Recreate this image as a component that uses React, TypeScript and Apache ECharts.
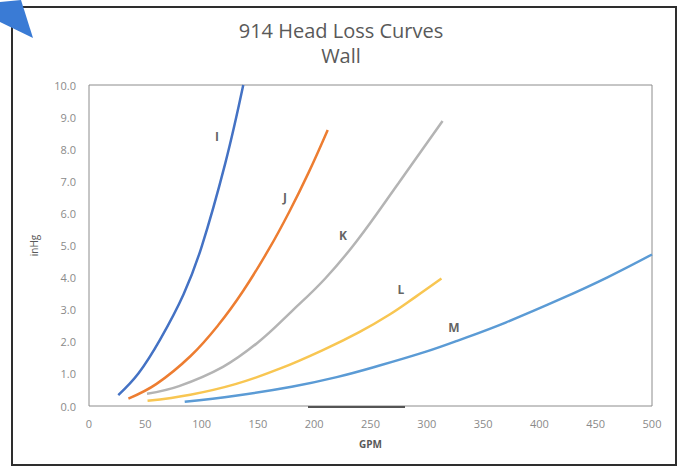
import React, { useEffect, useRef } from "react";
import * as echarts from "echarts";

const titleLines = ["914 Head Loss Curves", "Wall"];
const xName = "GPM";
const yName = "inHg";

const curveI = [[26, 0.34], [44, 1.02], [63, 2.06], [84, 3.48], [100, 4.96], [121, 7.56], [137, 10.0]];
const curveJ = [[35, 0.23], [60, 0.69], [90, 1.55], [115, 2.53], [137, 3.59], [160, 4.9], [178, 6.06], [195, 7.27], [212, 8.6]];
const curveK = [[51.5, 0.38], [80, 0.62], [119, 1.22], [150, 1.98], [180, 2.95], [210, 3.98], [238, 5.15], [275, 6.95], [314, 8.88]];
const curveL = [[52, 0.16], [90, 0.35], [130, 0.68], [170, 1.17], [210, 1.78], [240, 2.3], [267, 2.85], [290, 3.4], [313, 3.97]];
const curveM = [[85, 0.13], [130, 0.32], [180, 0.6], [220, 0.9], [258, 1.26], [300, 1.7], [327, 2.03], [370, 2.6], [420, 3.35], [460, 4.0], [500, 4.72]];

const curveNames = ["I", "J", "K", "L", "M"];
const curveColors = ["#4472C4", "#ED7D31", "#B4B4B4", "#F8C652", "#5B9BD5"];
const curves = [curveI, curveJ, curveK, curveL, curveM];
const labelPositions = [[113.7, 8.4], [174, 6.5], [225.6, 5.3], [277, 3.64], [324, 2.43]];

export default function App() {
  const ref = useRef<HTMLDivElement>(null);
  useEffect(() => {
    if (!ref.current) return;
    const chart = echarts.init(ref.current, null, { renderer: "svg" });
    const font = "'Open Sans', 'Noto Sans', sans-serif";
    const lineSeries = curves.map((c, i) => ({
      type: "line",
      name: curveNames[i],
      data: c,
      smooth: 0.4,
      showSymbol: false,
      symbol: "none",
      lineStyle: { color: curveColors[i], width: 2.5 },
      z: 3,
    }));
    chart.setOption({
      animation: false,
      backgroundColor: "#ffffff",
      textStyle: { fontFamily: font },
      title: {
        text: titleLines.join("\n"),
        left: "center",
        top: 13,
        textStyle: { fontFamily: font, fontSize: 20, fontWeight: "normal", color: "#595959", lineHeight: 25 },
      },
      grid: { left: 89, right: 30, top: 85, bottom: 61, show: true, borderColor: "#8c8c8c", borderWidth: 1 },
      xAxis: {
        type: "value",
        min: 0,
        max: 500,
        interval: 50,
        name: xName,
        nameLocation: "middle",
        nameGap: 33,
        nameTextStyle: { fontFamily: font, fontSize: 10, color: "#595959", fontWeight: "bold" },
        axisLine: { show: false },
        axisTick: { show: false },
        splitLine: { show: false },
        axisLabel: { fontFamily: font, fontSize: 11, color: "#8a8a8a", margin: 12 },
      },
      yAxis: {
        type: "value",
        min: 0,
        max: 10,
        interval: 1,
        name: yName,
        nameLocation: "middle",
        nameRotate: 90,
        nameGap: 50,
        nameTextStyle: { fontFamily: font, fontSize: 10, color: "#595959" },
        axisLine: { show: false },
        axisTick: { show: false },
        splitLine: { show: false },
        axisLabel: { fontFamily: font, fontSize: 11, color: "#8a8a8a", margin: 13, formatter: (v: number) => v.toFixed(1) },
      },
      series: [
        ...lineSeries,
        {
          type: "scatter",
          symbolSize: 0,
          data: labelPositions.map((p, i) => ({ value: p, name: curveNames[i] })),
          label: {
            show: true,
            position: "inside",
            formatter: (p: any) => p.name,
            fontFamily: font,
            fontSize: 12,
            fontWeight: "bold",
            color: "#3a3a3a",
          },
          z: 4,
        },
      ],
      graphic: [
        { type: "rect", shape: { x: 12, y: 7, width: 664, height: 458 }, style: { fill: "none", stroke: "#2e2e2e", lineWidth: 2 }, z: 10 },
        { type: "line", shape: { x1: 308, y1: 407, x2: 405, y2: 407 }, style: { stroke: "#555555", lineWidth: 2 }, z: 10 },
        { type: "polygon", shape: { points: [[0, 2], [21, 0], [33, 38], [0, 22]] }, style: { fill: "#3a7bd5" }, z: 11 },
      ],
    });
    return () => chart.dispose();
  }, []);
  return <div ref={ref} style={{ position: "fixed", left: 0, top: 0, width: 682, height: 467 }} />;
}
